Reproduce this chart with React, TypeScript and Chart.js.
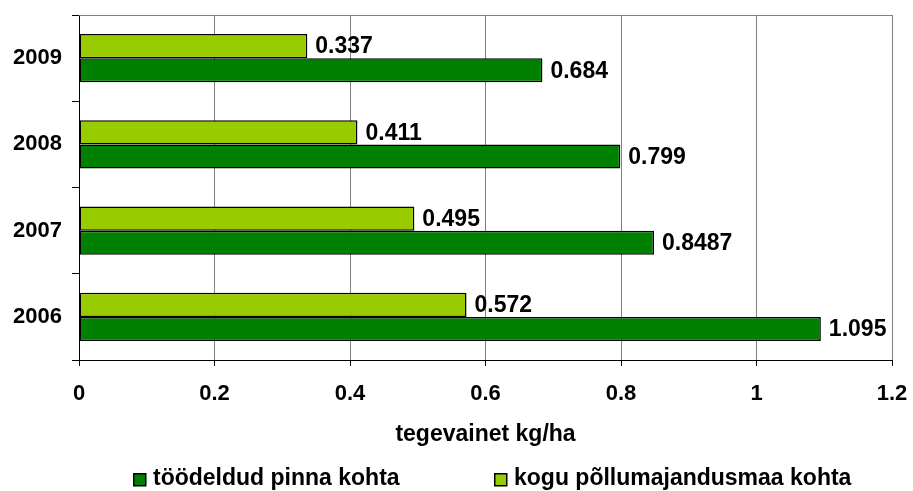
import React, { useEffect, useRef } from "react";
import { Chart, registerables } from "chart.js";

Chart.register(...registerables);

const categories = ["2009", "2008", "2007", "2006"];
const treatedLabel = "töödeldud pinna kohta";
const totalLabel = "kogu põllumajandusmaa kohta";
const treatedValues = [0.684, 0.799, 0.8487, 1.095];
const totalValues = [0.337, 0.411, 0.495, 0.572];
const axisTitle = "tegevainet kg/ha";
const xMin = 0;
const xMax = 1.2;
const xStep = 0.2;

const DARK = "#008000";
const LIGHT = "#99CC00";
const FONT = "'Liberation Sans', Arial, sans-serif";

export default function App() {
  const ref = useRef<HTMLCanvasElement | null>(null);

  useEffect(() => {
    document.body.style.margin = "0";
    const canvas = ref.current;
    if (!canvas) return;

    const frame = {
      id: "frame",
      beforeDatasetsDraw(chart: any) {
        const { ctx, chartArea } = chart;
        ctx.save();
        ctx.strokeStyle = "#808080";
        ctx.lineWidth = 1;
        ctx.beginPath();
        const y = Math.round(chartArea.top) + 0.5;
        ctx.moveTo(chartArea.left, y);
        ctx.lineTo(chartArea.right, y);
        ctx.stroke();
        ctx.restore();
      },
    };

    const valueLabels = {
      id: "valueLabels",
      afterDatasetsDraw(chart: any) {
        const { ctx } = chart;
        ctx.save();
        ctx.font = `bold 23px ${FONT}`;
        ctx.fillStyle = "#000";
        ctx.textAlign = "left";
        ctx.textBaseline = "middle";
        chart.data.datasets.forEach((ds: any, i: number) => {
          const meta = chart.getDatasetMeta(i);
          meta.data.forEach((el: any, j: number) => {
            ctx.fillText(String(ds.data[j]), el.x + 8, el.y + 1);
          });
        });
        ctx.restore();
      },
    };

    const customLegend = {
      id: "customLegend",
      afterDraw(chart: any) {
        const { ctx } = chart;
        const items = [
          { label: treatedLabel, color: DARK, x: 133 },
          { label: totalLabel, color: LIGHT, x: 494 },
        ];
        ctx.save();
        ctx.font = `bold 23px ${FONT}`;
        ctx.textBaseline = "middle";
        ctx.textAlign = "left";
        items.forEach((it) => {
          ctx.fillStyle = it.color;
          ctx.fillRect(it.x, 473, 13, 13);
          ctx.strokeStyle = "#000";
          ctx.lineWidth = 1.5;
          ctx.strokeRect(it.x + 0.75, 473.75, 12, 12);
          ctx.fillStyle = "#000";
          ctx.fillText(it.label, it.x + 20, 479);
        });
        ctx.restore();
      },
    };

    const chart = new Chart(canvas, {
      type: "bar",
      data: {
        labels: categories,
        datasets: [
          {
            label: totalLabel,
            data: totalValues,
            backgroundColor: LIGHT,
            borderColor: "#000",
            borderWidth: 1.5,
            borderSkipped: false,
            categoryPercentage: 0.56,
            barPercentage: 1,
          },
          {
            label: treatedLabel,
            data: treatedValues,
            backgroundColor: DARK,
            borderColor: "#000",
            borderWidth: 1.5,
            borderSkipped: false,
            categoryPercentage: 0.56,
            barPercentage: 1,
          },
        ],
      },
      options: {
        indexAxis: "y",
        animation: false,
        responsive: false,
        maintainAspectRatio: false,
        layout: { padding: { top: 15, right: 21, left: 0, bottom: 36 } },
        plugins: {
          legend: { display: false },
          tooltip: { enabled: false },
        },
        scales: {
          x: {
            min: xMin,
            max: xMax,
            ticks: {
              stepSize: xStep,
              color: "#000",
              font: { family: FONT, size: 22, weight: "bold" },
              padding: 15,
              callback: (v: any) => String(Number(Number(v).toFixed(1))),
            },
            grid: {
              color: "#808080",
              tickColor: "#000",
              tickLength: 6,
              lineWidth: 1,
            },
            border: { display: true, color: "#000", width: 1 },
            title: {
              display: true,
              text: axisTitle,
              color: "#000",
              font: { family: FONT, size: 23, weight: "bold" },
              padding: { top: 10, bottom: 7 },
            },
            afterFit: (s: any) => {
              s.height = 95;
              s.paddingLeft = 0;
              s.paddingRight = 0;
            },
          },
          y: {
            offset: true,
            ticks: {
              color: "#000",
              font: { family: FONT, size: 22, weight: "bold" },
              padding: 10,
            },
            grid: {
              drawOnChartArea: false,
              offset: true,
              tickLength: 7,
              tickColor: "#000",
              color: "#000",
            },
            border: { display: true, color: "#000", width: 1 },
            afterFit: (s: any) => {
              s.width = 79;
              s.paddingTop = 0;
              s.paddingBottom = 0;
            },
          },
        },
      },
      plugins: [frame, valueLabels, customLegend],
    } as any);

    return () => chart.destroy();
  }, []);

  return (
    <div style={{ width: 913, height: 491 }}>
      <canvas ref={ref} width={913} height={491} style={{ width: 913, height: 491, display: "block" }} />
    </div>
  );
}
